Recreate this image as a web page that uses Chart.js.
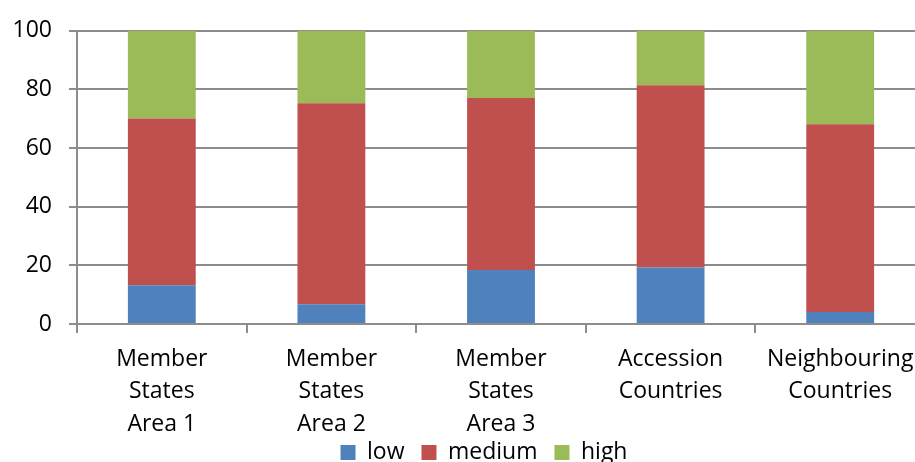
<!DOCTYPE html>
<html>
<head>
<meta charset="utf-8">
<script src="https://cdn.jsdelivr.net/npm/chart.js@4/dist/chart.umd.min.js"></script>
<style>
    html, body { margin: 0; padding: 0; background: #ffffff; overflow: hidden; }
    #wrap { width: 915px; height: 462px; overflow: hidden; }
    canvas { display: block; }
</style>
</head>
<body>
<div id="wrap">
    <canvas id="chart" width="968" height="462"></canvas>
</div>
<script>
const categories = [
    ['Member', 'States', 'Area 1'],
    ['Member', 'States', 'Area 2'],
    ['Member', 'States', 'Area 3'],
    ['Accession', 'Countries'],
    ['Neighbouring', 'Countries']
];
const lowValues = [13.2, 6.7, 18.4, 19.3, 4.1];
const mediumValues = [56.9, 68.6, 58.7, 62.1, 64.0];
const highValues = [29.9, 24.7, 22.9, 18.6, 31.9];
const yTicks = [0, 20, 40, 60, 80, 100];

const gridColor = '#8c8c8c';
const fontFamily = '"Open Sans", Lato, sans-serif';

// the legend sits partly over the space of the wrapped category labels
const legendNudge = {
    id: 'legendNudge',
    afterLayout(chart) {
        chart.legend.top -= 14;
        chart.legend.bottom -= 14;
    }
};

const ctx = document.getElementById('chart').getContext('2d');

new Chart(ctx, {
    type: 'bar',
    data: {
        labels: categories,
        datasets: [
            { label: 'low', data: lowValues, backgroundColor: '#4f81bd' },
            { label: 'medium', data: mediumValues, backgroundColor: '#c0504d' },
            { label: 'high', data: highValues, backgroundColor: '#9bbb59' }
        ]
    },
    options: {
        responsive: false,
        animation: false,
        layout: {
            padding: { left: 0, right: 0, top: 26, bottom: -26 }
        },
        datasets: {
            bar: {
                categoryPercentage: 1,
                barPercentage: 0.4
            }
        },
        scales: {
            x: {
                stacked: true,
                afterFit: (scale) => {
                    scale.height = 114;
                },
                grid: {
                    display: true,
                    drawOnChartArea: false,
                    offset: true,
                    color: gridColor,
                    lineWidth: 2,
                    tickLength: 9
                },
                border: { display: true, color: gridColor, width: 2 },
                ticks: {
                    color: '#000000',
                    font: { family: fontFamily, size: 23, lineHeight: 1.41 },
                    padding: 10,
                    maxRotation: 0,
                    autoSkip: false
                }
            },
            y: {
                stacked: true,
                min: 0,
                max: 100,
                afterBuildTicks: (scale) => {
                    scale.ticks = yTicks.map((v) => ({ value: v }));
                },
                afterFit: (scale) => {
                    scale.width = 77;
                },
                grid: {
                    color: gridColor,
                    lineWidth: 2,
                    tickLength: 8
                },
                border: { display: true, color: gridColor, width: 2 },
                ticks: {
                    color: '#000000',
                    font: { family: fontFamily, size: 23 },
                    padding: 17
                }
            },
            // empty space right of the plot, past the window edge
            yRight: {
                type: 'linear',
                axis: 'y',
                position: 'right',
                afterFit: (scale) => {
                    scale.width = 43;
                },
                grid: { display: false },
                border: { display: false },
                ticks: { display: false }
            }
        },
        plugins: {
            legend: {
                position: 'bottom',
                labels: {
                    color: '#000000',
                    font: { family: fontFamily, size: 23 },
                    boxWidth: 15,
                    boxHeight: 15,
                    padding: 17
                }
            },
            tooltip: { enabled: false }
        }
    },
    plugins: [legendNudge]
});
</script>
</body>
</html>
